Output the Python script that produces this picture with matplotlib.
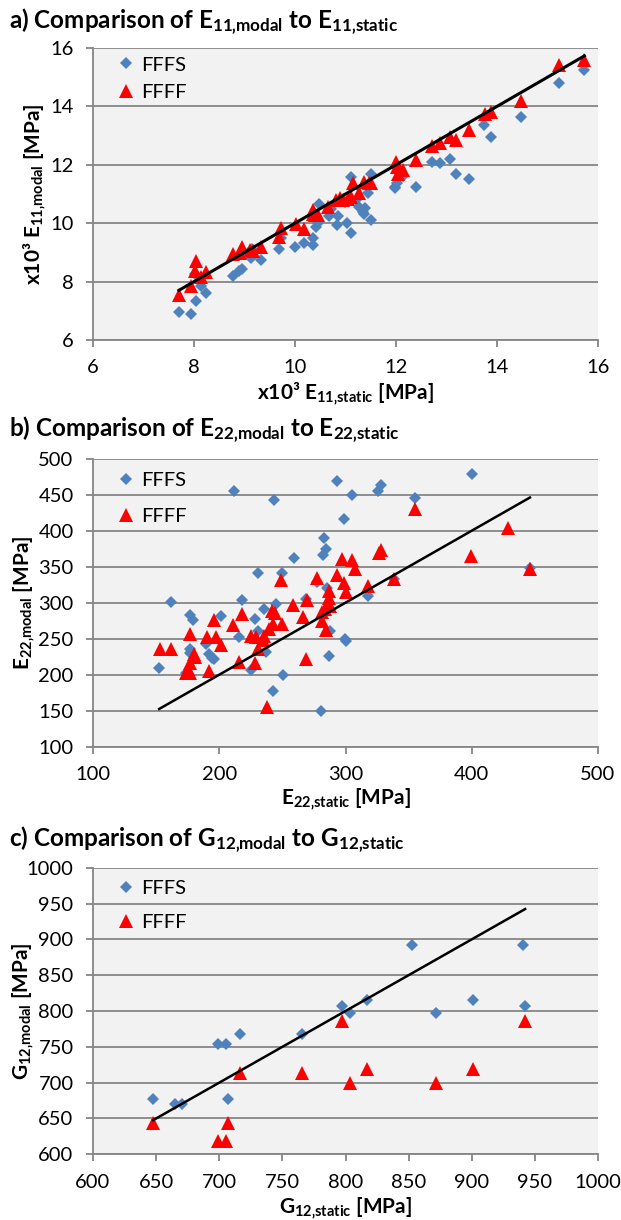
import matplotlib
matplotlib.use("Agg")
import matplotlib.pyplot as plt
import numpy as np

plt.rcParams['font.family'] = ['Lato', 'DejaVu Sans']
plt.rcParams['mathtext.fontset'] = 'custom'
plt.rcParams['mathtext.rm'] = 'Lato'
plt.rcParams['mathtext.bf'] = 'Lato:bold'
plt.rcParams['mathtext.it'] = 'Lato:italic'

# ---------------- data ----------------
# a) E11 (x10^3 MPa)
a_fffs_x = [7.70, 7.95, 8.04, 8.13, 8.24, 8.02, 8.78, 8.90, 8.96, 9.13, 9.14, 9.32, 9.68, 9.72,
            10.00, 10.18, 10.35, 10.35, 10.41, 10.45, 10.47, 10.67, 10.71, 10.84, 10.86, 11.03,
            11.11, 11.11, 11.27, 11.35, 11.37, 11.39, 11.51, 11.51, 11.00, 11.20, 11.45, 12.02,
            11.98, 11.98, 12.13, 12.39, 12.72, 12.88, 13.07, 13.18, 13.44, 13.74, 13.88, 14.47,
            15.23, 15.73]
a_fffs_y = [6.97, 6.89, 7.32, 7.84, 7.62, 8.27, 8.20, 8.38, 8.43, 8.82, 9.13, 8.75, 9.13, 9.50,
            9.18, 9.32, 9.50, 9.24, 9.87, 9.99, 10.65, 10.24, 10.50, 9.93, 10.25, 10.00,
            9.68, 11.59, 10.56, 10.39, 10.31, 10.52, 10.10, 11.67, 10.72, 10.80, 11.05, 11.38,
            11.25, 11.19, 11.61, 11.25, 12.11, 12.05, 12.19, 11.68, 11.53, 13.37, 12.96, 13.65,
            14.80, 15.26]
a_ffff_x = [7.70, 7.95, 8.02, 8.04, 8.13, 8.24, 8.78, 8.92, 8.96, 9.11, 9.16, 9.32, 9.69, 9.72,
            10.01, 10.17, 10.35, 10.39, 10.45, 10.35, 10.66, 10.82, 10.90, 10.96, 11.04, 11.11,
            11.14, 11.27, 11.37, 11.47, 11.51, 12.00, 12.02, 12.03, 12.13, 12.39, 12.72, 12.88,
            13.07, 13.18, 13.44, 13.76, 13.88, 14.47, 15.23, 15.73]
a_ffff_y = [7.55, 7.84, 8.38, 8.69, 8.15, 8.33, 8.96, 8.99, 9.18, 9.07, 9.05, 9.18, 9.53, 9.84,
            9.96, 9.81, 10.44, 10.27, 10.27, 10.32, 10.56, 10.79, 10.85, 10.79, 10.83, 10.90,
            11.38, 11.02, 11.42, 11.38, 11.36, 12.11, 11.93, 11.70, 11.82, 12.16, 12.64, 12.76,
            12.94, 12.85, 13.19, 13.74, 13.82, 14.20, 15.43, 15.60]

# b) E22 (MPa)
b_fffs_x = [152.4, 161.8, 176.5, 179.5, 176.5, 176.5, 173.4, 189.7, 191.8, 194.4, 195.9, 201.3,
            211.6, 215.4, 217.9, 225.1, 228.5, 230.4, 230.7, 235.7, 237.3, 242.3, 243.3, 245.1,
            249.8, 250.2, 258.9, 268.7, 277.1, 281.8, 282.8, 284.6, 280.6, 285.0, 286.8, 287.5,
            293.1, 298.7, 299.4, 300.0, 305.3, 317.6, 326.0, 328.5, 338.6, 355.2, 400.0, 446.1]
b_fffs_y = [208.8, 300.5, 283.3, 276.5, 235.2, 230.6, 202.8, 243.1, 228.2, 223.6, 222.2, 281.5,
            455.1, 252.8, 303.2, 206.0, 277.8, 341.7, 260.6, 290.7, 231.9, 177.3, 442.6, 297.7,
            341.7, 199.1, 361.6, 305.6, 329.2, 366.2, 389.4, 375.0, 149.5, 319.9, 225.9, 260.6,
            468.5, 416.7, 249.1, 246.8, 449.1, 309.3, 454.6, 463.9, 332.4, 445.4, 479.2, 348.1]
b_ffff_x = [152.7, 162.1, 173.4, 175.2, 176.5, 176.8, 177.1, 180.3, 181.0, 190.3, 192.2, 195.9,
            197.2, 201.3, 211.0, 215.7, 217.9, 225.1, 228.5, 229.5, 231.0, 234.5, 235.7, 237.6,
            239.8, 242.0, 242.9, 244.5, 249.8, 248.9, 258.6, 266.5, 268.7, 269.3, 277.4, 281.2,
            281.5, 283.7, 284.6, 285.9, 286.8, 287.1, 288.1, 293.1, 297.5, 298.7, 300.0, 305.3,
            307.2, 317.6, 326.6, 328.2, 338.2, 355.2, 399.7, 428.8, 446.1]
b_ffff_y = [236.1, 236.1, 202.8, 208.3, 256.9, 216.7, 202.8, 228.2, 225.0, 252.8, 205.1, 275.9,
            252.3, 240.7, 268.5, 218.1, 283.8, 253.2, 216.7, 252.3, 235.2, 247.7, 253.7, 155.1,
            263.0, 288.4, 270.8, 286.1, 269.9, 331.5, 296.8, 280.6, 221.3, 303.2, 333.8, 274.5,
            287.0, 291.7, 262.0, 297.7, 306.9, 316.2, 295.4, 338.4, 360.2, 327.8, 314.8, 359.3,
            347.2, 323.1, 368.5, 373.1, 333.3, 430.6, 364.8, 403.2, 347.2]

# c) G12 (MPa)
c_fffs_x = [647.6, 665.2, 670.5, 699.1, 705.3, 707.2, 716.6, 765.5, 796.9, 803.8, 816.9, 852.7,
            871.5, 901.3, 940.4, 942.3]
c_fffs_y = [676.7, 669.8, 669.8, 753.5, 753.5, 676.7, 767.9, 767.9, 806.5, 797.7, 814.9, 891.6,
            797.7, 814.9, 891.6, 806.5]
c_ffff_x = [647.6, 699.1, 705.3, 707.2, 716.6, 765.5, 796.9, 803.8, 816.9, 871.5, 901.3, 942.3]
c_ffff_y = [643.3, 619.1, 619.1, 643.3, 713.0, 713.0, 786.5, 700.0, 719.5, 700.0, 719.5, 786.5]

series_labels = ["FFFS", "FFFF"]

C = "\u201a"  # comma glyph without mathtext punctuation spacing

panels = [
    dict(fx=a_fffs_x, fy=a_fffs_y, tx=a_ffff_x, ty=a_ffff_y, lim=(6, 16), step=2,
         title=rf"a) Comparison of $\mathbf{{E_{{11{C}modal}}}}$ to $\mathbf{{E_{{11{C}static}}}}$",
         xlabel=rf"x10³ $\mathbf{{E_{{11{C}static}}}}$ [MPa]",
         ylabel=rf"x10³ $\mathbf{{E_{{11{C}modal}}}}$ [MPa]"),
    dict(fx=b_fffs_x, fy=b_fffs_y, tx=b_ffff_x, ty=b_ffff_y, lim=(100, 500), step=50,
         xstep=100,
         title=rf"b) Comparison of $\mathbf{{E_{{22{C}modal}}}}$ to $\mathbf{{E_{{22{C}static}}}}$",
         xlabel=rf"$\mathbf{{E_{{22{C}static}}}}$ [MPa]",
         ylabel=rf"$\mathbf{{E_{{22{C}modal}}}}$ [MPa]"),
    dict(fx=c_fffs_x, fy=c_fffs_y, tx=c_ffff_x, ty=c_ffff_y, lim=(600, 1000), step=50,
         title=rf"c) Comparison of $\mathbf{{G_{{12{C}modal}}}}$ to $\mathbf{{G_{{12{C}static}}}}$",
         xlabel=rf"$\mathbf{{G_{{12{C}static}}}}$ [MPa]",
         ylabel=rf"$\mathbf{{G_{{12{C}modal}}}}$ [MPa]"),
]

W, H = 621, 1220
fig = plt.figure(figsize=(W / 100, H / 100), dpi=100)

# pixel boxes: (left, top, right, bottom)
boxes = [(93, 48, 598, 340), (93, 458.7, 598, 746.7), (93, 867.7, 598, 1154.3)]
title_base = [28, 436, 846]
xlabel_base = [399, 804, 1213]
ylabel_x = [40, 29, 28]
leg_gap = [0.5, 0.95, 0.85]
leg_top = [0.985, 0.968, 0.971]

blue = "#4F81BD"
red = "#FF0000"
grid_c = "#868686"

for p, (l, t, r, b), tb, xb, yx, lg, lt in zip(panels, boxes, title_base, xlabel_base,
                                              ylabel_x, leg_gap, leg_top):
    ax = fig.add_axes([l / W, 1 - b / H, (r - l) / W, (b - t) / H])
    ax.set_facecolor("#F2F2F2")
    lo, hi = p["lim"]
    ax.set_xlim(lo, hi)
    ax.set_ylim(lo, hi)
    ystep = p["step"]
    xstep = p.get("xstep", ystep)
    ax.set_yticks(np.arange(lo, hi + 0.001, ystep))
    ax.set_xticks(np.arange(lo, hi + 0.001, xstep))
    ax.yaxis.grid(True, color=grid_c, linewidth=1.3)
    ax.set_axisbelow(True)
    for s in ["top", "right"]:
        ax.spines[s].set_visible(False)
    for s in ["left", "bottom"]:
        ax.spines[s].set_color(grid_c)
        ax.spines[s].set_linewidth(1.3)
    ax.tick_params(axis="both", colors=grid_c, length=5, width=1.3, labelsize=14.5,
                   labelcolor="black")
    ax.tick_params(axis="y", pad=9)
    ax.tick_params(axis="x", pad=9)

    ax.plot(p["fx"], p["fy"], linestyle="none", marker="D", markersize=6.5,
            color=blue, markeredgewidth=0, label=series_labels[0], zorder=3)
    ax.plot(p["tx"], p["ty"], linestyle="none", marker="^", markersize=10,
            color=red, markeredgewidth=0, label=series_labels[1], zorder=4)
    allx = list(p["fx"]) + list(p["tx"])
    mn, mx = min(allx), max(allx)
    ax.plot([mn, mx], [mn, mx], color="black", linewidth=2.2 if lo == 6 else 1.8, zorder=5)

    ax.legend(loc="upper left", bbox_to_anchor=(0.045, lt), frameon=False,
              fontsize=14.5, handlelength=0.6, handletextpad=0.45,
              labelspacing=lg, borderaxespad=0.0, borderpad=0.2)

    fig.text(9 / W, 1 - tb / H, p["title"], fontsize=17.5, fontweight="bold",
             ha="left", va="baseline")
    fig.text((l + r) / 2 / W, 1 - xb / H, p["xlabel"], fontsize=15, fontweight="bold",
             ha="center", va="baseline")
    fig.text(yx / W, 1 - (t + b) / 2 / H, p["ylabel"], fontsize=15, fontweight="bold",
             rotation=90, rotation_mode="anchor", ha="center", va="baseline")

fig.savefig("out.png", dpi=100)
